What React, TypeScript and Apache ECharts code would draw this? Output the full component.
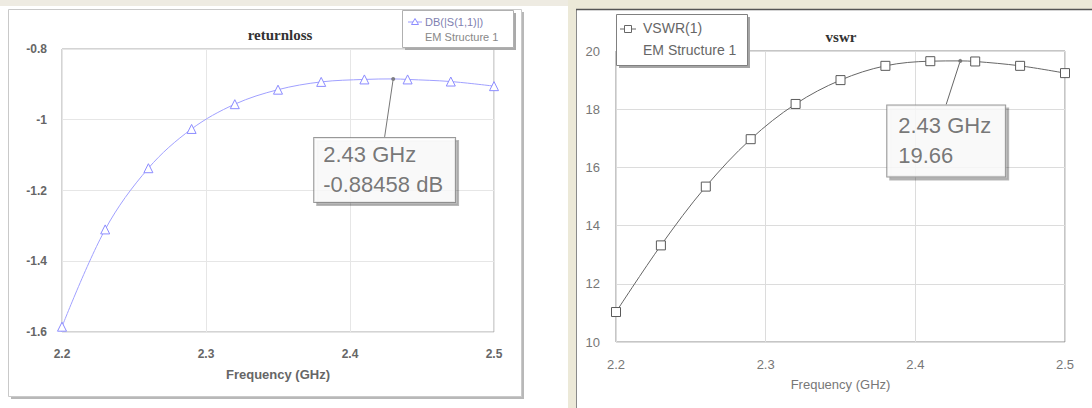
import React, { useEffect, useRef } from "react";
import * as echarts from "echarts";

// ---- data ----
const freqs = [2.2, 2.23, 2.26, 2.29, 2.32, 2.35, 2.38, 2.41, 2.44, 2.47, 2.5];
const returnLoss = [-1.585, -1.31, -1.137, -1.026, -0.956, -0.915, -0.893, -0.886, -0.886, -0.892, -0.905];
const vswr = [11.03, 13.32, 15.34, 16.97, 18.18, 19.0, 19.49, 19.65, 19.64, 19.49, 19.24];
const markerFreq = 2.43;
const returnLossMarker = -0.88458;
const vswrMarker = 19.66;
const xTicks = [2.2, 2.3, 2.4, 2.5];
const rlTicks = [-1.6, -1.4, -1.2, -1, -0.8];
const vswrTicks = [10, 12, 14, 16, 18, 20];

function mergeData(xs: number[], ys: number[], mx: number, my: number) {
  const out: any[] = [];
  let added = false;
  xs.forEach((x, i) => {
    if (!added && mx < x) {
      out.push({ value: [mx, my], symbol: "none" });
      added = true;
    }
    out.push([x, ys[i]]);
  });
  if (!added) out.push({ value: [mx, my], symbol: "none" });
  return out;
}

export default function App() {
  const ref = useRef<HTMLDivElement>(null);
  useEffect(() => {
    document.body.style.margin = "0";
    const chart = echarts.init(ref.current!, null, { renderer: "svg" });

    const leftFont = "Liberation Sans, Arial, sans-serif";
    const rightFont = "Liberation Sans, Arial, sans-serif";

    const xAxisBase = (gridIndex: number, color: string, weight: string, size: number) => ({
      type: "value",
      gridIndex,
      min: xTicks[0],
      max: xTicks[xTicks.length - 1],
      interval: 0.1,
      axisLine: { show: false },
      axisTick: { show: false },
      splitLine: { show: true, lineStyle: { color: gridIndex === 0 ? "#e6e6e6" : "#dcdcdc", width: 1 } },
      axisLabel: {
        margin: 16,
        color,
        fontWeight: weight,
        fontSize: size,
        fontFamily: gridIndex === 0 ? leftFont : rightFont,
        formatter: (v: number) => v.toFixed(1),
      },
      name: "Frequency (GHz)",
      nameLocation: "middle",
      nameGap: 36,
      nameTextStyle: {
        color,
        fontSize: 13,
        fontWeight: weight,
        fontFamily: gridIndex === 0 ? leftFont : rightFont,
      },
    });

    const calloutLabel = (text: string, padding: number[], font: string) => ({
      show: true,
      position: "inside",
      formatter: () => text,
      color: "#555",
      fontSize: 22,
      lineHeight: 30,
      fontFamily: font,
      align: "left",
      backgroundColor: "#ffffff",
      borderColor: "#808080",
      borderWidth: 1,
      padding,
      shadowColor: "rgba(0,0,0,0.35)",
      shadowBlur: 1,
      shadowOffsetX: 3,
      shadowOffsetY: 3,
    });

    const option: any = {
      animation: false,
      backgroundColor: "#ffffff",
      grid: [
        { left: 62, top: 49, width: 432, height: 283, show: true, backgroundColor: "#fff", borderColor: "#a9a9a9", borderWidth: 1 },
        { left: 616, top: 51, width: 449, height: 291, show: true, backgroundColor: "#fff", borderColor: "#8c8c8c", borderWidth: 1 },
      ],
      xAxis: [xAxisBase(0, "#666", "bold", 12), xAxisBase(1, "#777", "normal", 13)],
      yAxis: [
        {
          type: "value",
          gridIndex: 0,
          min: rlTicks[0],
          max: rlTicks[rlTicks.length - 1],
          interval: 0.2,
          axisLine: { show: false },
          axisTick: { show: false },
          splitLine: { show: true, lineStyle: { color: "#e6e6e6" } },
          axisLabel: {
            margin: 15,
            color: "#666",
            fontWeight: "bold",
            fontSize: 12,
            fontFamily: leftFont,
            formatter: (v: number) => String(parseFloat(v.toFixed(1))),
          },
        },
        {
          type: "value",
          gridIndex: 1,
          min: vswrTicks[0],
          max: vswrTicks[vswrTicks.length - 1],
          interval: 2,
          axisLine: { show: false },
          axisTick: { show: false },
          splitLine: { show: true, lineStyle: { color: "#dcdcdc" } },
          axisLabel: { margin: 16, color: "#777", fontSize: 13, fontFamily: rightFont },
        },
      ],
      series: [
        {
          type: "line",
          name: "DB(|S(1,1)|)",
          xAxisIndex: 0,
          yAxisIndex: 0,
          data: mergeData(freqs, returnLoss, markerFreq, returnLossMarker),
          smooth: 0.35,
          symbol: "triangle",
          symbolSize: 9,
          showAllSymbol: true,
          lineStyle: { color: "#a0a0ff", width: 1 },
          itemStyle: { color: "#fff", borderColor: "#8c8cff", borderWidth: 1 },
          z: 3,
        },
        {
          type: "line",
          name: "VSWR(1)",
          xAxisIndex: 1,
          yAxisIndex: 1,
          data: mergeData(freqs, vswr, markerFreq, vswrMarker),
          smooth: 0.35,
          symbol: "rect",
          symbolSize: 9,
          showAllSymbol: true,
          lineStyle: { color: "#666", width: 1 },
          itemStyle: { color: "#fff", borderColor: "#5a5a5a", borderWidth: 1 },
          z: 3,
        },
        {
          type: "scatter",
          xAxisIndex: 0,
          yAxisIndex: 0,
          data: [[markerFreq, returnLossMarker]],
          symbol: "circle",
          symbolSize: 4,
          itemStyle: { color: "#666" },
          z: 5,
          label: calloutLabel(`${markerFreq.toFixed(2)} GHz\n${returnLossMarker} dB`, [2, 12, 2, 9], leftFont),
          labelLayout: { dx: -79, dy: 91 },
          labelLine: { show: true, lineStyle: { color: "#777", width: 1 } },
        },
        {
          type: "scatter",
          xAxisIndex: 1,
          yAxisIndex: 1,
          data: [[markerFreq, vswrMarker]],
          symbol: "circle",
          symbolSize: 4,
          itemStyle: { color: "#666" },
          z: 5,
          label: calloutLabel(`${markerFreq.toFixed(2)} GHz\n${vswrMarker}`, [6, 14, 5, 11], rightFont),
          labelLayout: { dx: -73, dy: 80 },
          labelLine: { show: true, lineStyle: { color: "#666", width: 1 } },
        },
      ],
      graphic: [
        // backgrounds / frames
        { type: "rect", z: -20, shape: { x: 0, y: 0, width: 1092, height: 6 }, style: { fill: "#eeebe2" } },
        { type: "rect", z: -19, shape: { x: 11, y: 12, width: 513, height: 387 }, style: { fill: "#b8b8b8" } },
        { type: "rect", z: -18, shape: { x: 8.5, y: 9.5, width: 513, height: 387 }, style: { fill: "#fff", stroke: "#c9c9c9", lineWidth: 1 } },
        { type: "rect", z: -20, shape: { x: 568, y: 0, width: 524, height: 9 }, style: { fill: "#ece9d8" } },
        { type: "rect", z: -20, shape: { x: 568, y: 0, width: 8, height: 408 }, style: { fill: "#ece9d8" } },
        { type: "line", z: -17, shape: { x1: 576.5, y1: 9, x2: 576.5, y2: 408 }, style: { stroke: "#8a8a8a", lineWidth: 1 } },
        { type: "line", z: -17, shape: { x1: 576, y1: 9.5, x2: 1092, y2: 9.5 }, style: { stroke: "#555", lineWidth: 1.5 } },
        // titles
        { type: "text", z: 10, x: 280, y: 35, style: { text: "returnloss", align: "center", verticalAlign: "middle", font: "bold 15px 'Liberation Serif', 'Times New Roman', serif", fill: "#333" } },
        { type: "text", z: 10, x: 841, y: 37, style: { text: "vswr", align: "center", verticalAlign: "middle", font: "bold 15px 'Liberation Serif', 'Times New Roman', serif", fill: "#333" } },
        // left legend
        { type: "rect", z: 100, shape: { x: 405, y: 13, width: 111, height: 37 }, style: { fill: "#aaa" } },
        { type: "rect", z: 101, shape: { x: 402.5, y: 10.5, width: 111, height: 37 }, style: { fill: "#fff", stroke: "#b0b0b0", lineWidth: 1 } },
        { type: "line", z: 102, shape: { x1: 408, y1: 22, x2: 422, y2: 22 }, style: { stroke: "#9a9aff", lineWidth: 1 } },
        { type: "polygon", z: 103, shape: { points: [[415, 18.5], [411.5, 24.5], [418.5, 24.5]] }, style: { fill: "#fff", stroke: "#8c8cff", lineWidth: 1 } },
        { type: "text", z: 103, x: 425, y: 22, style: { text: "DB(|S(1,1)|)", verticalAlign: "middle", font: "11px 'Liberation Sans', Arial, sans-serif", fill: "#8080b0" } },
        { type: "text", z: 103, x: 425, y: 37, style: { text: "EM Structure 1", verticalAlign: "middle", font: "11px 'Liberation Sans', Arial, sans-serif", fill: "#888" } },
        // right legend
        { type: "rect", z: 100, shape: { x: 619, y: 17, width: 131, height: 51 }, style: { fill: "#a5a5a5" } },
        { type: "rect", z: 101, shape: { x: 616.5, y: 14.5, width: 131, height: 51 }, style: { fill: "#fff", stroke: "#808080", lineWidth: 1 } },
        { type: "line", z: 102, shape: { x1: 620, y1: 29, x2: 636, y2: 29 }, style: { stroke: "#666", lineWidth: 1 } },
        { type: "rect", z: 103, shape: { x: 624.5, y: 25.5, width: 7, height: 7 }, style: { fill: "#fff", stroke: "#666", lineWidth: 1 } },
        { type: "text", z: 103, x: 643, y: 28, style: { text: "VSWR(1)", verticalAlign: "middle", font: "14px 'Liberation Sans', Arial, sans-serif", fill: "#666" } },
        { type: "text", z: 103, x: 643, y: 50, style: { text: "EM Structure 1", verticalAlign: "middle", font: "14px 'Liberation Sans', Arial, sans-serif", fill: "#666" } },
      ],
    };

    chart.setOption(option);
    return () => chart.dispose();
  }, []);

  return <div ref={ref} style={{ width: 1092, height: 408 }} />;
}
